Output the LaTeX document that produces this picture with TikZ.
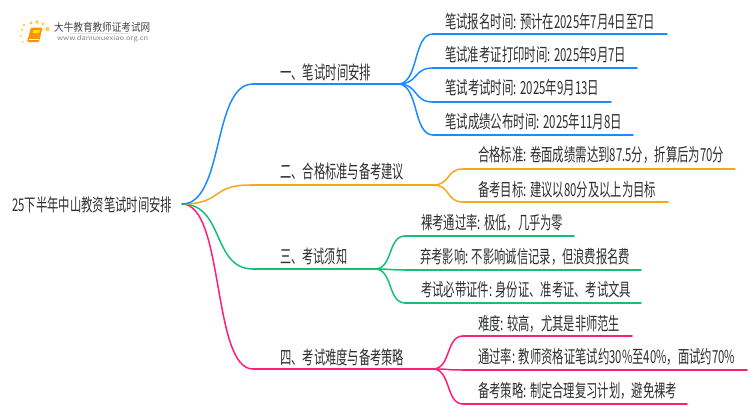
\documentclass[tikz,border=0pt]{standalone}
\usepackage{fontspec}
\usepackage{graphicx}
\setmainfont{Noto Sans CJK SC}
\usetikzlibrary{calc}
\definecolor{cblue}{HTML}{1A8CFF}
\definecolor{corange}{HTML}{F5A81C}
\definecolor{cgreen}{HTML}{12C175}
\definecolor{cpink}{HTML}{FF1F78}
\definecolor{ctext}{HTML}{2E2E2E}
\newcommand{\fitw}[2]{\resizebox{#1pt}{\height}{#2}}
\newcommand{\conn}[4][0.6]{\draw[#2] let \p1=(#3),\p2=(#4),\n1={\x2-\x1} in (#3) .. controls (\x1+#1*\n1,\y1) and (\x2-0.58*\n1,\y2) .. (#4);}
\tikzset{
  lbl/.style={anchor=west,inner sep=0pt,text=ctext,font=\fontsize{18}{20}\selectfont},
  lblb/.style={lbl,font=\fontsize{18.5}{20}\selectfont},
  wire/.style={line width=1.5pt,line cap=round},
  blu/.style={wire,draw=cblue}, ora/.style={wire,draw=corange},
  gre/.style={wire,draw=cgreen}, pin/.style={wire,draw=cpink}
}
\begin{document}
\begin{tikzpicture}[x=1pt,y=-1pt]
\useasboundingbox (0,0) rectangle (750,410);
% logo
\foreach \px/\py/\pr in {24/25/1.4,31/23/1.7,37/22/1.8,43/24/1.7,47.5/29/2.1,22/30/1.2,21/36/1,23/42/.8}
  \fill[orange!55!yellow,opacity=.75] (\px,\py) circle (\pr);
\fill[orange!85!yellow,rounded corners=1pt] (31,27.5) -- (42.5,27.5) -- (39,42) -- (27,42) -- cycle;
\draw[white,line width=.5pt] (29,39.5) -- (38.5,39.5);
\fill[yellow!85!orange] (33.5,30) -- (40,30) -- (39.2,33) -- (32.8,33) -- cycle;
\node[inner sep=0pt,anchor=west,text=ctext!90] (logotitle) at (54,27) {\fitw{96}{\fontsize{11}{12}\selectfont 大牛教育教师证考试网}};
\node[inner sep=0pt,anchor=west,text=gray] (logourl) at (57,39) {\fitw{91}{\fontsize{6.5}{8}\selectfont www.daniuxuexiao.org.cn}};
\draw[black!12,line width=.6pt] (70,33.5) -- (128,33.5);
% root
\node[lbl,font=\fontsize{17.5}{20}\selectfont] (root) at (12,205) {\fitw{160}{25下半年中山教资笔试时间安排}};
\coordinate (r) at (182,204);
% junction coordinates
\coordinate (b1s) at (253,84);  \coordinate (b1e) at (398,84);
\coordinate (b2s) at (250,185); \coordinate (b2e) at (433,185);
\coordinate (b3s) at (253,269); \coordinate (b3e) at (375,269);
\coordinate (b4s) at (253,369); \coordinate (b4e) at (433,369);
% leaf line coordinates
\coordinate (a1s) at (433,34);  \coordinate (a1e) at (667,34);
\coordinate (a2s) at (433,68);  \coordinate (a2e) at (637,68);
\coordinate (a3s) at (433,102); \coordinate (a3e) at (611,102);
\coordinate (a4s) at (433,135); \coordinate (a4e) at (633,135);
\coordinate (c1s) at (463,169); \coordinate (c1e) at (735,169);
\coordinate (c2s) at (463,202); \coordinate (c2e) at (668,202);
\coordinate (d1s) at (405,236); \coordinate (d1e) at (574,236);
\coordinate (d2s) at (405,270); \coordinate (d2e) at (641,270);
\coordinate (d3s) at (405,303); \coordinate (d3e) at (641,303);
\coordinate (e1s) at (463,336); \coordinate (e1e) at (632,336);
\coordinate (e2s) at (463,370); \coordinate (e2e) at (747,370);
\coordinate (e3s) at (463,404); \coordinate (e3e) at (687,404);
% trunks
\conn{pin}{r}{b4s} \draw[pin] (b4s) -- (b4e);
\conn{gre}{r}{b3s} \draw[gre] (b3s) -- (b3e);
\conn{ora}{r}{b2s} \draw[ora] (b2s) -- (b2e);
\conn{blu}{r}{b1s} \draw[blu] (b1s) -- (b1e);
% twigs
\foreach \k in {a1,a2,a3,a4}{\conn{blu}{b1e}{\k s} \draw[blu] (\k s) -- (\k e);}
\foreach \k in {c1,c2}{\conn{ora}{b2e}{\k s} \draw[ora] (\k s) -- (\k e);}
\foreach \k in {d1,d2,d3}{\conn{gre}{b3e}{\k s} \draw[gre] (\k s) -- (\k e);}
\foreach \k in {e1,e2,e3}{\conn{pin}{b4e}{\k s} \draw[pin] (\k s) -- (\k e);}
% branch labels
\node[lblb] (t1) at (280,72)  {\fitw{91}{一、笔试时间安排}};
\node[lblb] (t2) at (280,172) {\fitw{124}{二、合格标准与备考建议}};
\node[lblb] (t3) at (280,256) {\fitw{67}{三、考试须知}};
\node[lblb] (t4) at (280,357) {\fitw{124}{四、考试难度与备考策略}};
% leaves
\node[lbl] (l1) at (445,22)  {\fitw{210}{笔试报名时间: 预计在2025年7月4日至7日}};
\node[lbl] (l2) at (445,55)  {\fitw{181}{笔试准考证打印时间: 2025年9月7日}};
\node[lbl] (l3) at (445,88)  {\fitw{154}{笔试考试时间: 2025年9月13日}};
\node[lbl] (l4) at (445,122) {\fitw{177}{笔试成绩公布时间: 2025年11月8日}};
\node[lbl] (m1) at (478,155) {\fitw{246}{合格标准: 卷面成绩需达到87.5分，折算后为70分}};
\node[lbl] (m2) at (478,190) {\fitw{178}{备考目标: 建议以80分及以上为目标}};
\node[lbl] (n1) at (421,223) {\fitw{142}{裸考通过率: 极低，几乎为零}};
\node[lbl] (n2) at (420,257) {\fitw{210}{弃考影响: 不影响诚信记录，但浪费报名费}};
\node[lbl] (n3) at (421,290) {\fitw{210}{考试必带证件: 身份证、准考证、考试文具}};
\node[lbl] (o1) at (478,324) {\fitw{142}{难度: 较高，尤其是非师范生}};
\node[lbl] (o2) at (478,357) {\fitw{257}{通过率: 教师资格证笔试约30\%至40\%，面试约70\%}};
\node[lbl] (o3) at (478,391) {\fitw{199}{备考策略: 制定合理复习计划，避免裸考}};
\end{tikzpicture}
\end{document}
